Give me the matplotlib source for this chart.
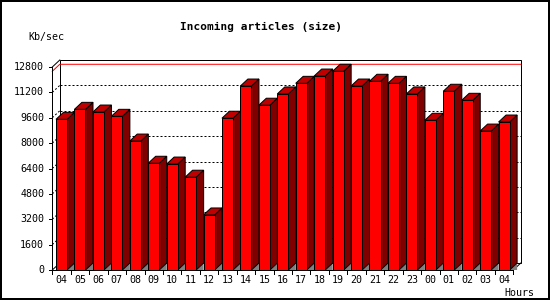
import matplotlib
matplotlib.use("Agg")
import matplotlib.pyplot as plt
from matplotlib.patches import Rectangle, Polygon

# data
hours = ["04", "05", "06", "07", "08", "09", "10", "11", "12", "13", "14", "15", "16",
         "17", "18", "19", "20", "21", "22", "23", "00", "01", "02", "03", "04"]
kbsec = [9500, 10130, 9960, 9690, 8130, 6730, 6680, 5850, 3470, 9570, 11600, 10390, 11100,
         11770, 12230, 12530, 11600, 11900, 11770, 11100, 9440, 11270, 10700, 8760, 9330]
yticks = [0, 1600, 3200, 4800, 6400, 8000, 9600, 11200, 12800]

W, H = 550, 300
LW = 0.72  # one pixel at dpi 100
FONT = "DejaVu Sans Mono"

fig = plt.figure(figsize=(W / 100, H / 100), dpi=100)
fig.patch.set_facecolor("white")

# front plane of the plot in pixels: x 52.3..513.3, y 270..67
left, right, bottom, top = 52.3, 513.3, 270, 67
ax = fig.add_axes([left / W, 1 - bottom / H, (right - left) / W, (bottom - top) / H])
n = len(hours)
ymax = yticks[-1]
ax.set_xlim(0, n)
ax.set_ylim(0, ymax)
ax.axis("off")

px_x = n / (right - left)          # data units per pixel in x
px_y = ymax / (bottom - top)       # data units per pixel in y
DX = 7.5 * px_x
DY = 7 * px_y

# back wall
ax.add_patch(Rectangle((DX, DY), n, ymax, fc="white", ec="black", lw=LW,
                       clip_on=False, zorder=1))
# dotted grid on back wall
for v in yticks[1:-1]:
    ax.plot([DX, n + DX], [v + DY, v + DY], color="black", lw=LW, ls=(0, (2, 2)),
            clip_on=False, zorder=2)
    ax.plot([0, DX], [v, v + DY], color="black", lw=LW, ls=(0, (2, 2)),
            clip_on=False, zorder=2)

# max line
m = max(kbsec)
ax.plot([0, DX, n + DX], [m, m + DY, m + DY], color="red", lw=LW, clip_on=False, zorder=3)

# left wall and floor edges
ax.plot([0, 0], [0, ymax], color="black", lw=LW, clip_on=False, zorder=3)
ax.plot([0, DX], [ymax, ymax + DY], color="black", lw=LW, clip_on=False, zorder=3)
ax.plot([0, DX], [0, DY], color="black", lw=LW, clip_on=False, zorder=3)
ax.plot([n, n + DX], [0, DY], color="black", lw=LW, clip_on=False, zorder=3)

# 3d bars
bw = 0.6
for i, v in enumerate(kbsec):
    x0 = i + (1 - bw) / 2
    x1 = x0 + bw
    z = 10 + i
    ax.add_patch(Polygon([(x1, 0), (x1 + DX, DY), (x1 + DX, 0)], closed=True,
                         fc="#808080", ec="none", clip_on=False, zorder=z))
    ax.add_patch(Polygon([(x1, 0), (x1 + DX, DY), (x1 + DX, v + DY), (x1, v)], closed=True,
                         fc="#800000", ec="black", lw=LW, clip_on=False, zorder=z))
    ax.add_patch(Polygon([(x0, v), (x1, v), (x1 + DX, v + DY), (x0 + DX, v + DY)], closed=True,
                         fc="#c00000", ec="black", lw=LW, clip_on=False, zorder=z))
    ax.add_patch(Rectangle((x0, 0), bw, v, fc="red", ec="black", lw=LW,
                           clip_on=False, zorder=z))

# front bottom axis + ticks
ax.plot([0, n], [0, 0], color="black", lw=LW, clip_on=False, zorder=50)
for i in range(n + 1):
    ax.plot([i, i], [0, -4 * px_y], color="black", lw=LW, clip_on=False, zorder=50)
for i, lab in enumerate(hours):
    ax.annotate(lab, (i + 0.5, 0), xytext=(0, -7.4), textcoords="offset points",
                ha="center", va="center", fontsize=7.2, family=FONT)

# y ticks and labels
for v in yticks:
    ax.plot([-3.5 * px_x, 0], [v, v], color="black", lw=LW, clip_on=False, zorder=50)
    ax.annotate(str(v), (0, v), xytext=(-5.8, 0), textcoords="offset points",
                ha="right", va="center", fontsize=7.2, family=FONT)

# texts
fig.text(261 / W, 1 - 26.5 / H, "Incoming articles (size)", ha="center", va="center",
         fontsize=8, fontweight="bold", family=FONT)
fig.text(28 / W, 1 - 37 / H, "Kb/sec", ha="left", va="center", fontsize=7.2, family=FONT)
fig.text(534 / W, 1 - 292.5 / H, "Hours", ha="right", va="center", fontsize=7.2, family=FONT)

# outer border
fig.patches.append(Rectangle((1 / W, 1 - 298.5 / H), 547.5 / W, 297.5 / H,
                             transform=fig.transFigure, fill=False, ec="black", lw=1.44))

fig.savefig("out.png", dpi=100)
